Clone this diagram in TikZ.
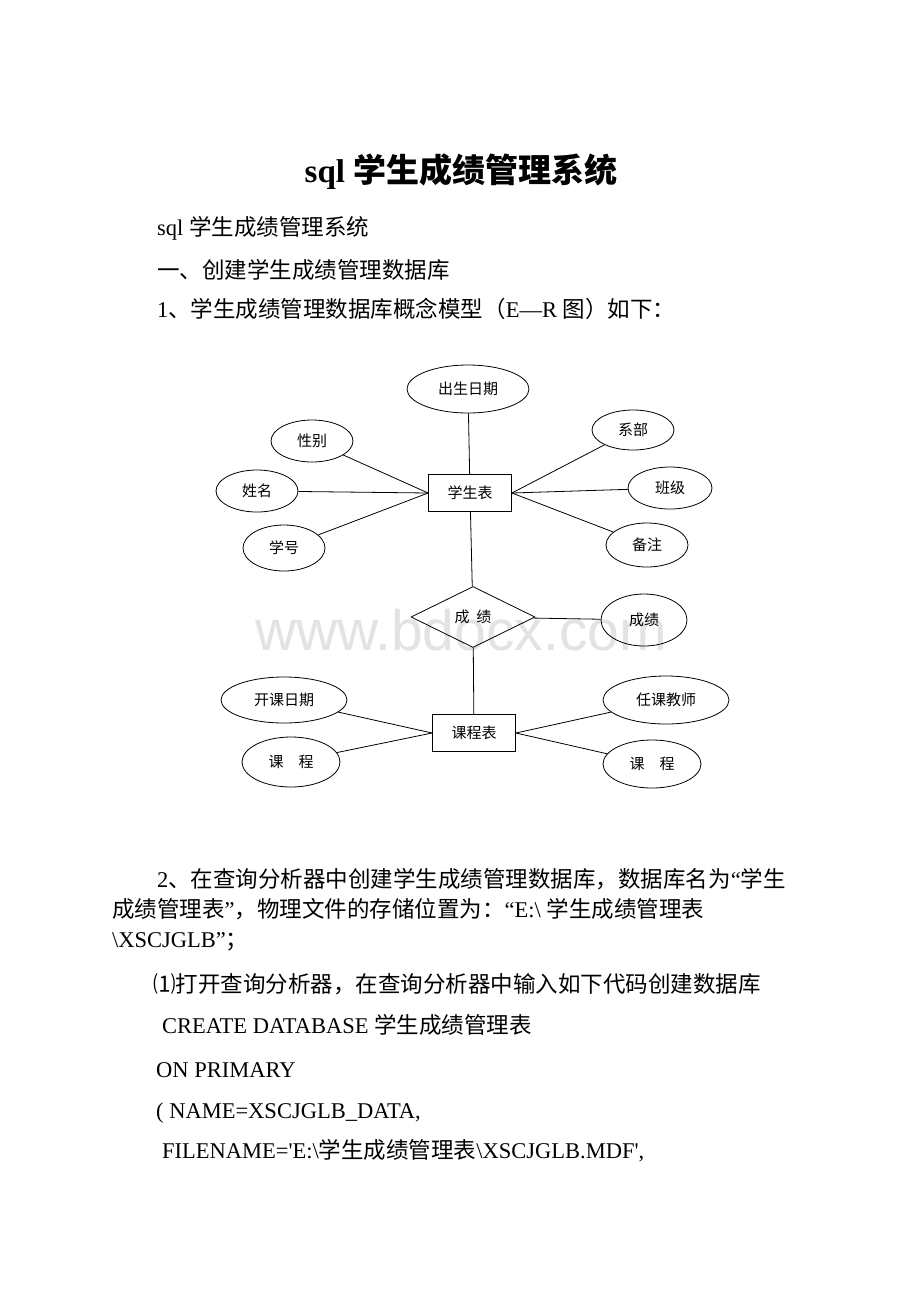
\documentclass[tikz,border=0pt]{standalone}
\usepackage{fontspec}
\setmainfont{Liberation Serif}[Ligatures=TeXOff]
\newfontfamily\cjk{Noto Sans CJK SC}
\newfontfamily\wmfont{Liberation Sans}
\usetikzlibrary{shapes.geometric}
\begin{document}
\begin{tikzpicture}[x=1pt,y=-1pt,
  body/.style={anchor=base west, inner sep=0pt, font=\fontsize{22.5pt}{27pt}\selectfont},
  lbl/.style={font=\cjk\fontsize{15pt}{18pt}\selectfont},
  attr/.style={lbl, draw, ellipse, inner sep=0pt, line width=0.8pt},
  ent/.style={lbl, draw, rectangle, inner sep=0pt, minimum width=83pt, minimum height=37pt, line width=0.8pt},
  rel/.style={lbl, draw, diamond, inner sep=0pt, minimum width=124pt, minimum height=61pt, line width=0.8pt},
  link/.style={line width=0.8pt}
]
\fill[white] (0,0) rectangle (920,1302);
\useasboundingbox (0,0) rectangle (920,1302);

% watermark
\node[text=black!11, font=\wmfont\fontsize{57pt}{60pt}\selectfont, anchor=base, inner sep=0pt] (wm) at (461,650) {www.bdocx.com};

% text above diagram
\node[body, anchor=base] (title) at (461,182) {\fontsize{33pt}{40pt}\selectfont\bfseries sql {\cjk 学生成绩管理系统}};
\node[body] (t1) at (157,235) {sql {\cjk 学生成绩管理系统}};
\node[body] (t2) at (157,278) {{\cjk 一、创建学生成绩管理数据库}};
\node[body] (t3) at (157,317) {1{\cjk 、学生成绩管理数据库概念模型（}E—R {\cjk 图）如下：}};

% diagram
\node[attr, minimum width=122pt, minimum height=48pt] (birth) at (468,389) {出生日期};
\node[attr, minimum width=82pt, minimum height=42pt] (sex) at (312,441) {性别};
\node[attr, minimum width=82pt, minimum height=42pt] (name) at (257,491) {姓名};
\node[attr, minimum width=82pt, minimum height=46pt] (sno) at (284,548) {学号};
\node[ent] (stu) at (470,493) {学生表};
\node[attr, minimum width=82pt, minimum height=40pt] (dept) at (633,430) {系部};
\node[attr, minimum width=84pt, minimum height=42pt] (cls) at (670,488) {班级};
\node[attr, minimum width=82pt, minimum height=44pt] (note) at (647,545) {备注};
\node[rel] (score) at (473,617) {成\hspace{7pt}绩};
\node[attr, minimum width=86pt, minimum height=52pt] (grade) at (644,620) {成绩};
\node[ent] (course) at (474,733) {课程表};
\node[attr, minimum width=126pt, minimum height=46pt] (kkrq) at (284,700) {开课日期};
\node[attr, minimum width=98pt, minimum height=50pt] (kc1) at (291,762) {课\hspace{15pt}程};
\node[attr, minimum width=126pt, minimum height=48pt] (teacher) at (666,700) {任课教师};
\node[attr, minimum width=98pt, minimum height=48pt] (kc2) at (652,764) {课\hspace{15pt}程};

\draw[link] (birth) -- (stu);
\draw[link] (sex) -- (stu.west);
\draw[link] (name) -- (stu.west);
\draw[link] (sno) -- (stu.west);
\draw[link] (dept) -- (stu.east);
\draw[link] (cls) -- (stu.east);
\draw[link] (note) -- (stu.east);
\draw[link] (stu) -- (score);
\draw[link] (score) -- (grade);
\draw[link] (score) -- (course);
\draw[link] (kkrq) -- (course.west);
\draw[link] (kc1) -- (course.west);
\draw[link] (teacher) -- (course.east);
\draw[link] (kc2) -- (course.east);

% text below diagram
\node[body] (p1) at (157,887) {2{\cjk 、在查询分析器中创建学生成绩管理数据库，数据库名为}“{\cjk 学生}};
\node[body] (p2) at (112,917) {{\cjk 成绩管理表}”{\cjk ，物理文件的存储位置为：}“E:\textbackslash\ {\cjk 学生成绩管理表}};
\node[body] (p3) at (112,947) {\textbackslash XSCJGLB”{\cjk ；}};
\node[body] (p4) at (153,992) {{\cjk ⑴打开查询分析器，在查询分析器中输入如下代码创建数据库}};
\node[body] (p5) at (162,1033) {CREATE DATABASE {\cjk 学生成绩管理表}};
\node[body] (p6) at (156,1077) {ON PRIMARY};
\node[body] (p7) at (156,1118) {( NAME=XSCJGLB\_DATA,};
\node[body] (p8) at (162,1158) {FILENAME='E:\textbackslash{\cjk 学生成绩管理表}\textbackslash XSCJGLB.MDF',};
\end{tikzpicture}
\end{document}
